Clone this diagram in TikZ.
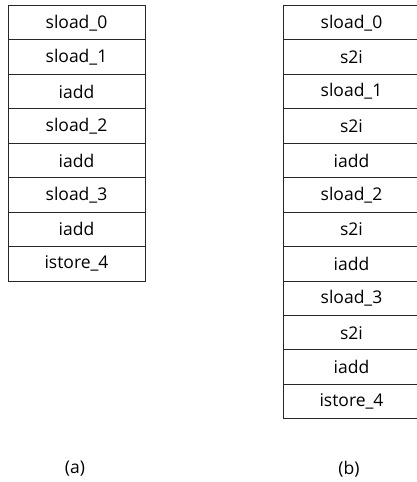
\documentclass[tikz,border=0pt]{standalone}
\usepackage{fontspec}
\setmainfont{Open Sans}
\begin{document}
\begin{tikzpicture}[x=1pt,y=-1pt,
  cell/.style={draw=black!85, line width=1pt, minimum width=137pt, minimum height=34.44pt, inner sep=0pt, outer sep=0pt, anchor=north west, font=\fontsize{17.5}{20}\selectfont},
  captext/.style={font=\fontsize{17.5}{20}\selectfont}]
\useasboundingbox (0,0) rectangle (417,482);
% column (a)
\foreach \t [count=\i from 0] in {sload\_0,sload\_1,iadd,sload\_2,iadd,sload\_3,iadd,istore\_4}{
  \node[cell] (a\i) at (8,5.5+34.44*\i) {\t};
}
% column (b)
\foreach \t [count=\i from 0] in {sload\_0,s2i,sload\_1,s2i,iadd,sload\_2,s2i,iadd,sload\_3,s2i,iadd,istore\_4}{
  \node[cell] (b\i) at (283,5.5+34.44*\i) {\t};
}
\node[captext] (la) at (75,469) {(a)};
\node[captext] (lb) at (349,469) {(b)};
\end{tikzpicture}
\end{document}
